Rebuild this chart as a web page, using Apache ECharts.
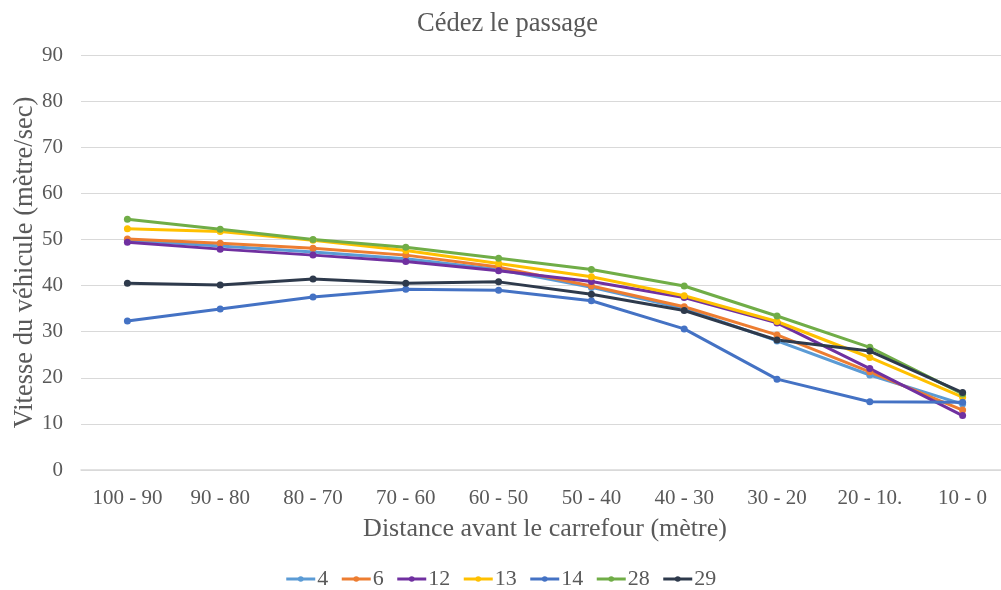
<!DOCTYPE html>
<html>
<head>
<meta charset="utf-8">
<script src="https://cdn.jsdelivr.net/npm/echarts@6/dist/echarts.min.js"></script>
<style>
  html, body { margin: 0; padding: 0; background: #fff; }
  #chart { width: 1001px; height: 590px; }
</style>
</head>
<body>
<div id="chart"></div>
<script>
// Distance bands before the intersection
const categories = ['100 - 90', '90 - 80', '80 - 70', '70 - 60', '60 - 50', '50 - 40', '40 - 30', '30 - 20', '20 - 10.', '10 - 0'];

// Vehicle speed per band, one array per vehicle
const v4  = [49.8, 48.6, 47.3, 45.8, 43.5, 39.6, 35.0, 28.0, 20.6, 14.3];
const v6  = [50.1, 49.2, 48.1, 46.6, 44.0, 39.9, 35.4, 29.3, 21.3, 13.0];
const v12 = [49.4, 47.9, 46.6, 45.2, 43.2, 40.9, 37.4, 31.9, 22.0, 11.8];
const v13 = [52.3, 51.7, 49.8, 47.6, 44.8, 41.9, 37.8, 32.2, 24.4, 15.8];
const v14 = [32.3, 34.9, 37.5, 39.2, 39.0, 36.7, 30.6, 19.7, 14.8, 14.7];
const v28 = [54.4, 52.2, 50.0, 48.3, 45.9, 43.5, 39.9, 33.4, 26.6, 16.5];
const v29 = [40.5, 40.1, 41.4, 40.5, 40.8, 38.1, 34.6, 28.2, 25.8, 16.8];

const seriesNames = ['4', '6', '12', '13', '14', '28', '29'];
const seriesData = [v4, v6, v12, v13, v14, v28, v29];
const colors = ['#5B9BD5', '#ED7D31', '#7030A0', '#FFC000', '#4472C4', '#70AD47', '#2E3A4C'];

const yTicks = { min: 0, max: 90, interval: 10 };

const font = 'Liberation Serif, Times New Roman, serif';
const textColor = '#595959';

const chart = echarts.init(document.getElementById('chart'), null, { renderer: 'canvas' });

chart.setOption({
  animation: false,
  backgroundColor: '#ffffff',
  color: colors,
  title: {
    text: 'Cédez le passage',
    left: 412,
    top: 6,
    textStyle: { fontFamily: font, fontSize: 26.5, fontWeight: 'normal', color: textColor }
  },
  legend: {
    top: 563,
    left: 'center',
    itemWidth: 29,
    itemHeight: 7,
    itemGap: 12,
    lineStyle: { width: 3 },
    textStyle: { fontFamily: font, fontSize: 22, color: textColor, padding: [0, 0, 0, -3] },
    data: seriesNames
  },
  grid: { left: 81, top: 55, width: 928, height: 415, containLabel: false, outerBoundsMode: 'none' },
  xAxis: {
    type: 'category',
    data: categories,
    boundaryGap: true,
    name: 'Distance avant le carrefour (mètre)',
    nameLocation: 'middle',
    nameGap: 46,
    nameMoveOverlap: false,
    nameTextStyle: { fontFamily: font, fontSize: 26, color: textColor },
    axisLine: { show: true, lineStyle: { color: '#d9d9d9', width: 1.5 } },
    axisTick: { show: false },
    axisLabel: { fontFamily: font, fontSize: 21, color: textColor, margin: 18, interval: 0 }
  },
  yAxis: {
    type: 'value',
    min: yTicks.min,
    max: yTicks.max,
    interval: yTicks.interval,
    name: 'Vitesse du véhicule (mètre/sec)',
    nameLocation: 'middle',
    nameGap: 42,
    nameMoveOverlap: false,
    nameTextStyle: { fontFamily: font, fontSize: 26.5, color: textColor },
    axisLine: { show: false },
    axisTick: { show: false },
    axisLabel: { fontFamily: font, fontSize: 21, color: textColor, margin: 18 },
    splitLine: { lineStyle: { color: '#d9d9d9', width: 1.2 } }
  },
  series: seriesNames.map((n, i) => ({
    name: n,
    type: 'line',
    data: seriesData[i],
    symbol: 'circle',
    symbolSize: 7,
    lineStyle: { width: 3, color: colors[i] },
    itemStyle: { color: colors[i] }
  }))
});
</script>
</body>
</html>
